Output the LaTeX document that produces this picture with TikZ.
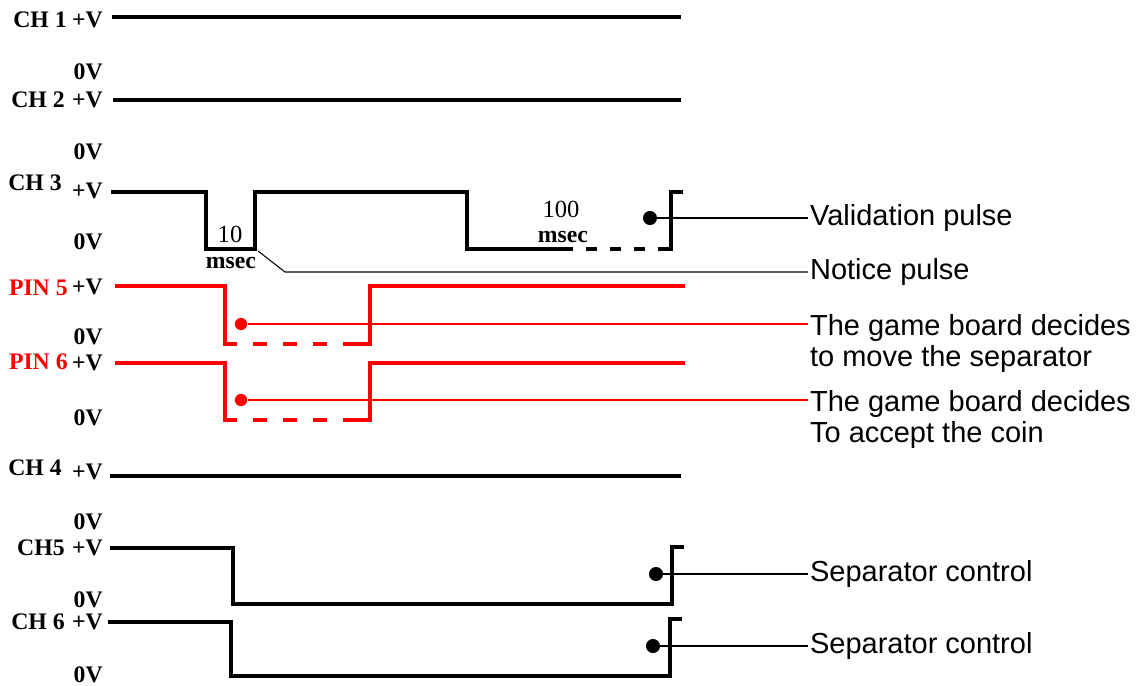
\documentclass[tikz,border=0pt]{standalone}
\usepackage{fontspec}
\setmainfont{Liberation Serif}
\newfontfamily\notefont{Liberation Sans}
\usetikzlibrary{positioning}
\definecolor{pinred}{RGB}{255,0,0}

\begin{document}
\begin{tikzpicture}[x=0.02cm, y=-0.02cm,
    chname/.style={anchor=east, inner sep=0pt, font=\bfseries\fontsize{13.5}{15}\selectfont},
    level/.style={anchor=east, inner sep=0pt, font=\bfseries\fontsize{13.5}{15}\selectfont},
    timing/.style={inner sep=0pt, font=\fontsize{14}{15}\selectfont},
    unit/.style={timing, font=\bfseries\fontsize{13.5}{15}\selectfont},
    wave/.style={line width=2.4pt, line join=miter},
    redwave/.style={wave, pinred},
    pointer/.style={line width=0.6pt},
    junction/.style={circle, fill, inner sep=0pt, minimum size=8pt},
    note/.style={anchor=west, inner sep=1pt, align=left, font=\notefont\fontsize{16.5}{17.6}\selectfont}]

    \useasboundingbox (0,0) rectangle (1140,686);

    % channel names and levels
    \foreach \nm/\col/\nx/\ny/\py/\zy [count=\i] in {CH 1/black/67/20/20/72, CH 2/black/65/100/100/152,
        CH 3/black/62/183/191/242, PIN 5/pinred/68/288/287/337, PIN 6/pinred/68/362/363/418,
        CH 4/black/62/468/472/522, CH5/black/65/548/548/600, CH 6/black/65/622/622/675} {
        \node[chname, text=\col] (name\i) at (\nx,\ny) {\nm};
        \node[level] (hi\i) at (103,\py) {+V};
        \node[level] (lo\i) at (103,\zy) {0V};
    }

    % steady channels
    \draw[wave] (112,17) -- (681,17);
    \draw[wave] (113,100) -- (681,100);
    \draw[wave] (110,476) -- (681,476);

    % CH 3
    \draw[wave] (111,192) -- (206,192) -- (206,249) -- (255,249) -- (255,192) -- (467,192) -- (467,249) -- (573,249);
    \draw[wave, dash pattern=on 6.2pt off 7.4pt, dash phase=6.2pt] (573,249) -- (658,249);
    \draw[wave] (658,249) -- (671,249) -- (671,192) -- (683,192);
    \node[timing] (short) at (230,234) {10};
    \node[unit] (shortunit) at (231,263) {msec};
    \node[timing] (long) at (561,209) {100};
    \node[unit] (longunit) at (563,237) {msec};

    % PIN 5 and PIN 6
    \foreach \hy/\ly in {286/344, 363/420} {
        \draw[redwave] (115,\hy) -- (225,\hy) -- (225,\ly) -- (237,\ly);
        \draw[redwave, dash pattern=on 7.9pt off 9.1pt, dash phase=7.9pt] (237,\ly) -- (347,\ly);
        \draw[redwave] (347,\ly) -- (370,\ly) -- (370,\hy) -- (685,\hy);
    }

    % CH5 and CH 6
    \draw[wave] (110,548) -- (233,548) -- (233,604) -- (672,604) -- (672,547) -- (684,547);
    \draw[wave] (108,622) -- (231,622) -- (231,676) -- (670,676) -- (670,619) -- (682,619);

    % notes
    \node[junction] (valdot) at (650,218) {};
    \node[note] (val) at (808,218) {Validation pulse};
    \draw[pointer] (valdot) -- (val.west);

    \coordinate (noticestart) at (258,251);
    \coordinate (noticebend) at (285,272);
    \node[note] (notice) at (808,272) {Notice pulse};
    \draw[pointer] (noticestart) -- (noticebend) -- (notice.west);

    \node[junction, pinred, minimum size=7pt] (movedot) at (241,324) {};
    \node[note, anchor=north west] (move) at (808,312) {The game board decides\\to move the separator};
    \draw[pointer, pinred] (movedot) -- (movedot -| move.west);

    \node[junction, pinred, minimum size=7pt] (acceptdot) at (241,400) {};
    \node[note, anchor=north west] (accept) at (808,388) {The game board decides\\To accept the coin};
    \draw[pointer, pinred] (acceptdot) -- (acceptdot -| accept.west);

    \node[junction] (sep1dot) at (656,574) {};
    \node[note] (sep1) at (808,574) {Separator control};
    \draw[pointer] (sep1dot) -- (sep1.west);

    \node[junction] (sep2dot) at (653,646) {};
    \node[note] (sep2) at (808,646) {Separator control};
    \draw[pointer] (sep2dot) -- (sep2.west);
\end{tikzpicture}
\end{document}
